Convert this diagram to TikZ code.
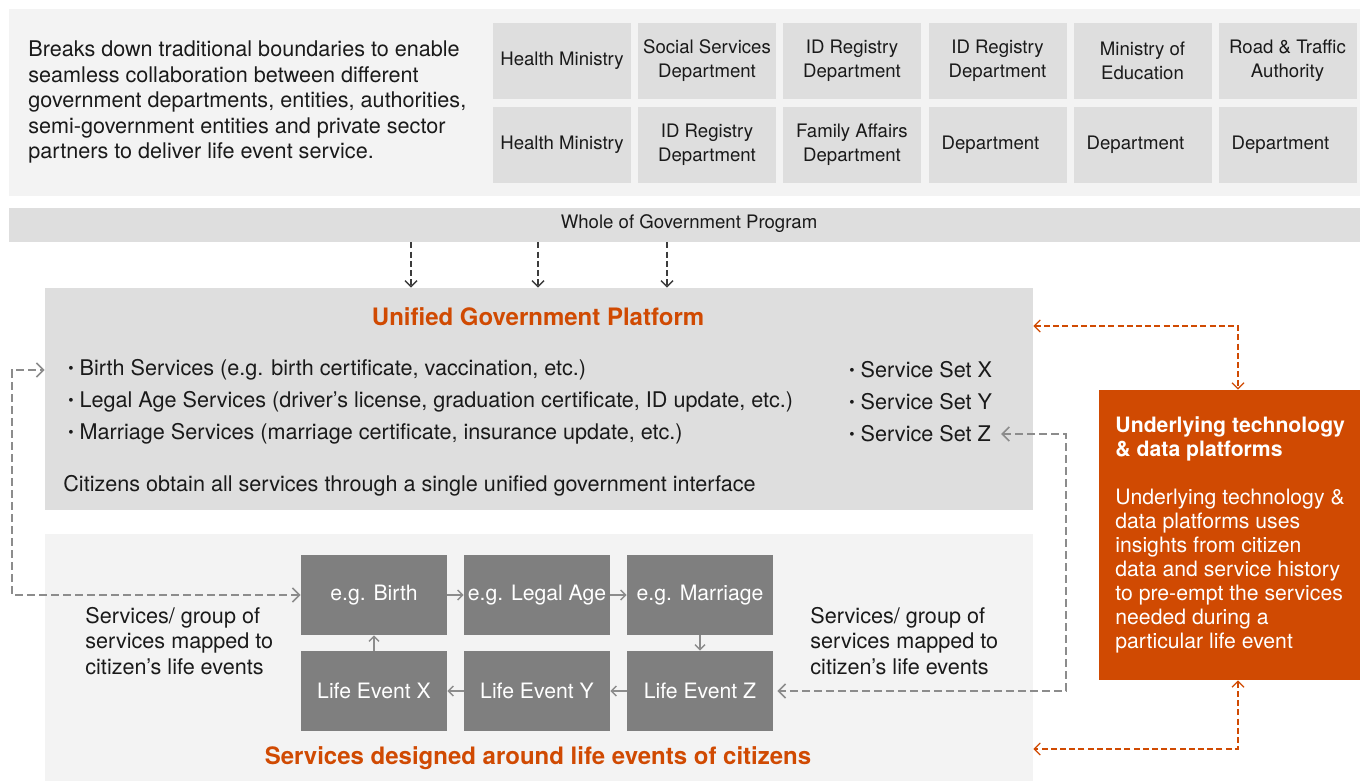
\documentclass[tikz,border=0pt]{standalone}
\usepackage{xcolor}
\usepackage{fontspec}
\setmainfont{TeX Gyre Heros}
\usepackage{tikz}
\usetikzlibrary{shapes,arrows,arrows.meta,calc,positioning}

\definecolor{cOrange}{HTML}{D04A02}
\definecolor{cLight}{HTML}{F3F3F3}
\definecolor{cMid}{HTML}{DEDEDE}
\definecolor{cEvent}{HTML}{7F7F7F}
\definecolor{cDash}{HTML}{8C8C8C}
\definecolor{cDark}{HTML}{3C3C3C}
\definecolor{cInk}{HTML}{1A1A1A}

\newcommand{\bulletMark}{\raisebox{0.2ex}{\scalebox{0.7}{\textbullet}}\ }

\tikzstyle{tsText} = [
    text=cInk,
    inner sep=0pt,
    font=\fontsize{10.8}{12.75}\selectfont
]
\tikzstyle{tsSmall} = [
    text=cInk,
    inner sep=0pt,
    font=\fontsize{9.3}{12}\selectfont
]
\tikzstyle{tsPanel} = [
    rectangle,
    inner sep=0pt
]
\tikzstyle{tsDept} = [
    tsPanel,
    tsSmall,
    fill=cMid,
    minimum width=69pt,
    minimum height=38pt,
    align=center
]
\tikzstyle{tsEvent} = [
    tsPanel,
    fill=cEvent,
    text=white,
    minimum width=73pt,
    minimum height=40pt,
    font=\fontsize{10.6}{12}\selectfont
]
\tikzstyle{tsTitle} = [
    text=cOrange,
    inner sep=0pt,
    font=\bfseries\fontsize{12}{14}\selectfont
]
\tikzstyle{tsStepArrow} = [
    draw=cDash,
    line width=0.7pt,
    -{Straight Barb[length=2.5pt,width=5pt]}
]
\tikzstyle{tsLoop} = [
    draw=cDash,
    line width=0.8pt,
    dash pattern=on 4pt off 2pt,
    {Straight Barb[length=3.5pt,width=7pt]}-{Straight Barb[length=3.5pt,width=7pt]}
]
\tikzstyle{tsTechLink} = [
    draw=cOrange,
    line width=0.6pt,
    dash pattern=on 3pt off 1.6pt,
    {Straight Barb[length=3pt,width=6pt]}-{Straight Barb[length=3pt,width=6pt]}
]
\tikzstyle{tsWogArrow} = [
    draw=cDark,
    line width=0.7pt,
    dash pattern=on 3pt off 1.6pt,
    -{Straight Barb[length=3pt,width=6pt]}
]

\begin{document}
\begin{tikzpicture}[x=0.5pt, y=-0.5pt]

        \useasboundingbox (0,0) rectangle (1360,781);

        % top band: departments
        \node[tsPanel, fill=cLight, minimum width=675.5pt, minimum height=93.5pt] (topPanel) at (684.5,102.5) {};
        \node[tsText, anchor=west, align=left] (intro) at (28,102)
            {Breaks down traditional boundaries to enable\\
             seamless collaboration between different\\
             government departments, entities, authorities,\\
             semi-government entities and private sector\\
             partners to deliver life event service.};

        \node[tsDept] (deptA1) at (562,61) {Health Ministry};
        \node[tsDept] (deptA2) at (707,61) {Social Services\\Department};
        \node[tsDept] (deptA3) at (852,61) {ID Registry\\Department};
        \node[tsDept] (deptA4) at (997.5,61) {ID Registry\\Department};
        \node[tsDept] (deptA5) at (1142.5,61) {Ministry of\\Education};
        \node[tsDept] (deptA6) at (1287.5,61) {Road \& Traffic\\Authority};

        \node[tsDept] (deptB1) at (562,145) {Health Ministry};
        \node[tsDept] (deptB2) at (707,145) {ID Registry\\Department};
        \node[tsDept] (deptB3) at (852,145) {Family Affairs\\Department};
        \node[tsDept] (deptB4) at (997.5,145) {\hspace*{-7pt}Department};
        \node[tsDept] (deptB5) at (1142.5,145) {\hspace*{-7pt}Department};
        \node[tsDept] (deptB6) at (1287.5,145) {\hspace*{-7pt}Department};

        \node[tsPanel, fill=cMid, minimum width=675.5pt, minimum height=17pt] (wog) at (684.5,225) {};
        \node[tsSmall] (wogLabel) at (689,224) {Whole of Government Program};

        % unified platform
        \node[tsPanel, fill=cMid, minimum width=494pt, minimum height=111pt] (platform) at (539,399) {};
        \node[tsTitle] (platformTitle) at (538,317) {Unified Government Platform};

        \node[tsText, anchor=west] (bBirth) at (68,370) {\bulletMark Birth Services (e.g. birth certificate, vaccination, etc.)};
        \node[tsText, anchor=west] (bLegal) at (68,402) {\bulletMark Legal Age Services (driver’s license, graduation certificate, ID update, etc.)};
        \node[tsText, anchor=west] (bMarriage) at (68,434) {\bulletMark Marriage Services (marriage certificate, insurance update, etc.)};

        \node[tsText, anchor=west] (sX) at (849,370) {\bulletMark Service Set X};
        \node[tsText, anchor=west] (sY) at (849,402) {\bulletMark Service Set Y};
        \node[tsText, anchor=west] (sZ) at (849,434) {\bulletMark Service Set Z};

        \node[tsText, anchor=west] (single) at (63,486) {Citizens obtain all services through a single unified government interface};

        \foreach \px in {411,538,667}
            \draw[tsWogArrow] (\px,0 |- wog.south) -- (\px,0 |- platform.north);

        % life events
        \node[tsPanel, fill=cLight, minimum width=494pt, minimum height=123.5pt] (lifePanel) at (539,657.5) {};

        \node[tsEvent] (birth) at (374,595) {e.g. Birth};
        \node[tsEvent] (legal) at (537,595) {e.g. Legal Age};
        \node[tsEvent] (marriage) at (700,595) {e.g. Marriage};
        \node[tsEvent] (evX) at (374,691) {Life Event X};
        \node[tsEvent] (evY) at (537,691) {Life Event Y};
        \node[tsEvent] (evZ) at (700,691) {Life Event Z};

        \draw[tsStepArrow] (birth.east) -- (legal.west);
        \draw[tsStepArrow] (legal.east) -- (marriage.west);
        \draw[tsStepArrow] (marriage.south) -- (evZ.north);
        \draw[tsStepArrow] (evZ.west) -- (evY.east);
        \draw[tsStepArrow] (evY.west) -- (evX.east);
        \draw[tsStepArrow] (evX.north) -- (birth.south);

        \node[tsText, anchor=west, align=left] (mapLeft) at (85,641)
            {Services/ group of\\services mapped to\\citizen’s life events};
        \node[tsText, anchor=west, align=left] (mapRight) at (810,641)
            {Services/ group of\\services mapped to\\citizen’s life events};

        \node[tsTitle] (lifeTitle) at (538,758) {Services designed around life events of citizens};

        \draw[tsLoop] (birth.west) -- (12,0 |- birth.west) -- (12,0 |- bBirth) -- (platform.west |- bBirth);
        \draw[tsLoop] ([xshift=5pt]sZ.east) -- (1066,0 |- sZ) -- (1066,0 |- evZ) -- ([xshift=2pt]evZ.east);

        % technology box
        \node[tsPanel, fill=cOrange, minimum width=130.5pt, minimum height=145pt] (tech) at (1229.5,535) {};
        \node[tsText, text=white, anchor=west, align=left, font=\fontsize{10.6}{12}\selectfont] (techText) at (1115,535)
            {\textbf{Underlying technology}\\
             \textbf{\& data platforms}\\[12pt]
             Underlying technology \&\\
             data platforms uses\\
             insights from citizen\\
             data and service history\\
             to pre-empt the services\\
             needed during a\\
             particular life event};

        \draw[tsTechLink] (platform.east |- 0,326) -- (1238,326) -- (1238,0 |- tech.north);
        \draw[tsTechLink] (1238,0 |- tech.south) -- (1238,749) -- (lifePanel.east |- 0,749);

\end{tikzpicture}
\end{document}
